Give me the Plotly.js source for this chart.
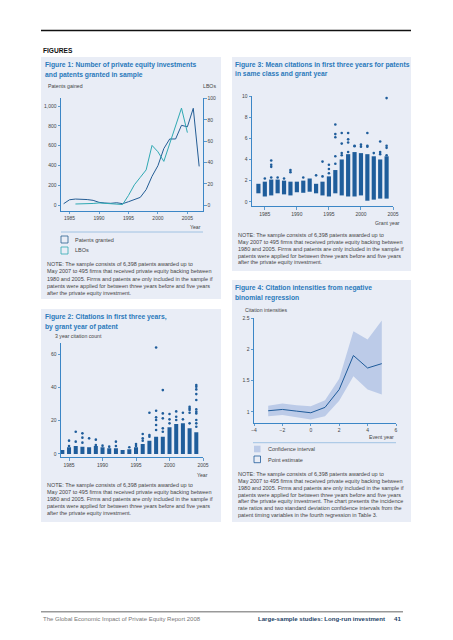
<!DOCTYPE html>
<html><head><meta charset="utf-8">
<script src="https://cdn.plot.ly/plotly-3.0.1.min.js"></script>
<style>html,body{margin:0;padding:0;background:#fff}#chart{width:453px;height:640px}</style>
</head><body><div id="chart"></div>
<script>
// ---------- Figure 1: patents granted (left axis) and LBOs (right axis)
const fig1Years = [1984,1985,1986,1987,1988,1989,1990,1991,1992,1993,1994,1995,1996,1997,1998,1999,2000,2001,2002,2003,2004,2005,2006,2007];
const patentsGranted = [13,53,60,60,55,47,27,20,17,23,13,33,53,77,155,290,397,570,667,667,805,790,977,390];
const lboYears = [1986,1987,1988,1989,1990,1991,1992,1993,1994,1995,1996,1997,1998,1999,2000,2001,2002,2003,2004,2005];
const lboCounts = [1,1,1.5,1.5,2,1.5,1,1,0.5,9,19,26,33,56,50,41,58,73,91,68];
const fig1LeftTicks = [0,200,400,600,800,1000];
const fig1RightTicks = [0,20,40,60,80,100];
const fig1XTicks = [1985,1990,1995,2000,2005];

// ---------- Figure 2: 3-year citation counts by grant year
const citeYears = [1984,1985,1986,1987,1988,1989,1990,1991,1992,1993,1994,1995,1996,1997,1998,1999,2000,2001,2002,2003,2004];
const citeDenseTop = [2.4,4,4.8,4.4,4,4.8,4,3.4,3.4,2.4,2.8,4,6,8,10.4,10.4,16,18,18.5,15.5,13];
const citeOutlierYears = [1985,1985,1986,1986,1987,1987,1987,1988,1989,1989,1990,1991,1992,1992,1994,1995,1995,1996,1996,1996,1997,1997,1997,1998,1998,1998,1998,1998,1998,1999,1999,1999,1999,1999,2000,2000,2000,2001,2001,2001,2002,2002,2003,2003,2003,2003,2003,2004,2004,2004,2004,2004,2004,2004,2004,2004,2004,2004];
const citeOutlierValues = [8,4.8,13.4,7.4,12.4,9.8,6.8,9.4,8.6,5.4,5,4.4,7.4,4.8,4,4.8,6,12,8,9.4,24.8,11.4,10.4,64,26,22,20.4,17.4,14.4,38.4,24.4,21.4,15.4,13.4,24,20.8,18.4,25.6,22.4,20.4,24.8,20.8,28.4,27.4,26.4,24.8,18.4,41.4,40.4,38.8,36,32.4,26.8,25.4,24.4,20.4,18.4,16.4];
const fig2YTicks = [0,20,40,60];

// ---------- Figure 3: mean citations for patents in same class and grant year
const meanYears = [1984,1985,1986,1987,1988,1989,1990,1991,1992,1993,1994,1995,1996,1997,1998,1999,2000,2001,2002,2003,2004];
const meanLow = [0.8,0.5,0.6,0.8,0.7,0.6,0.9,0.85,0.95,0.8,0.6,0.5,0.8,0.6,0.5,0.5,0.6,0.1,0.2,0.3,0.3];
const meanHigh = [1.7,1.9,2.1,2.1,2.0,1.9,1.9,2.0,2.2,1.7,1.9,2.4,3.0,4.0,4.5,4.7,4.6,4.5,4.3,4.0,4.3];
const meanOutlierYears = [1985,1986,1986,1986,1986,1987,1988,1989,1989,1991,1993,1994,1994,1995,1995,1995,1996,1996,1996,1996,1996,1997,1997,1997,1997,1998,1998,1998,1998,1999,1999,2000,2000,2001,2001,2001,2002,2003,2003,2003,2004,2004,2004,2004];
const meanOutlierValues = [2.2,3.9,3.5,3.3,2.3,2.3,2.2,3.0,2.8,2.3,2.5,3.8,2.4,3.5,3.1,2.7,7.3,6.4,6.1,4.3,3.6,6.5,5.5,4.6,4.4,6.5,5.9,5.6,4.7,5.3,5.25,5.4,5.2,6.5,5.3,5.2,4.6,5.7,4.7,4.5,9.8,5.3,5.1,4.4];
const fig3YTicks = [0,2,4,6,8,10];

// ---------- Figure 4: citation intensities
const eventYears = [-3,-2,-1,0,1,2,3,4,5];
const pointEstimate = [1.016,1.037,1.01,0.984,1.07,1.356,1.90,1.70,1.77];
const ciUpper = [1.096,1.133,1.106,1.09,1.186,1.53,2.29,2.155,2.46];
const ciLower = [0.93,0.947,0.91,0.878,0.93,1.176,1.57,1.356,1.277];
const fig4YTicks = [1,1.5,2,2.5];
const fig4XTicks = [-4,-2,0,2,4,6];

const noteLines = [
  "NOTE: The sample consists of 6,398 patents awarded up to",
  "May 2007 to 495 firms that received private equity backing between",
  "1980 and 2005. Firms and patents are only included in the sample if",
  "patents were applied for between three years before and five years",
  "after the private equity investment."
];
const note4Lines = [
  "NOTE: The sample consists of 6,398 patents awarded up to",
  "May 2007 to 495 firms that received private equity backing between",
  "1980 and 2005. Firms and patents are only included in the sample if",
  "patents were applied for between three years before and five years",
  "after the private equity investment. The chart presents the incidence",
  "rate ratios and two standard deviation confidence intervals from the",
  "patent timing variables in the fourth regression in Table 3."
];

// ---------- helpers
const W = 453, H = 640;
const fx = x => x / W;
const fy = y => 1 - y / H;
const FONT = "Liberation Sans, Arial, Helvetica, sans-serif";
const BG = "#e9edf6";
const TITLE = "#2a79bb";
const AXIS = "#3b86c6";
const DOT = "#1f5d9b";
const TXT = "#444";

const annotations = [];
function txt(x, y, text, opts = {}) {
  annotations.push(Object.assign({
    xref: 'paper', yref: 'paper', x: fx(x), y: fy(y), text: text,
    showarrow: false, xanchor: 'left', yanchor: 'middle',
    font: {family: FONT, size: 5.5, color: TXT}
  }, opts));
}
function title(x, y, t) { txt(x, y, t, {font: {family: FONT, size: 6.75, color: TITLE, weight: 'bold'}}); }

const shapes = [];
function rect(x0, y0, x1, y1, fill, line, layer) {
  shapes.push({type: 'rect', xref: 'paper', yref: 'paper', x0: fx(x0), x1: fx(x1), y0: fy(y1), y1: fy(y0),
    fillcolor: fill || 'rgba(0,0,0,0)', line: line || {width: 0}, layer: layer || 'below'});
}
function hline(x0, x1, y, color, width) {
  shapes.push({type: 'line', xref: 'paper', yref: 'paper', x0: fx(x0), x1: fx(x1), y0: fy(y), y1: fy(y),
    line: {color: color, width: width}});
}

// panels
rect(41, 57, 221, 299, BG);
rect(41, 309, 221, 522, BG);
rect(232, 57, 411, 271, BG);
rect(232, 280, 411, 522, BG);
hline(41, 411, 30.5, '#111', 1.3);
hline(41, 403, 611.7, '#999', 1.6);

// header text
txt(41, 50, "FIGURES", {font: {family: FONT, size: 6.6, color: '#111', weight: 'bold'}});

// Figure 1 texts
title(43, 65, "Figure 1: Number of private equity investments");
title(43, 74.5, "and patents granted in sample");
txt(46, 86, "Patents gained", {font: {family: FONT, size: 5.2, color: TXT}});
txt(218, 86, "LBOs", {xanchor: 'right', font: {family: FONT, size: 5.2, color: TXT}});
txt(203, 227, "Year", {xanchor: 'right', font: {family: FONT, size: 5.2, color: TXT}});
hline(61, 203, 232, '#8db7de', 0.8);
rect(61, 236, 68, 243, null, {color: '#2a5f90', width: 0.8}, 'above');
rect(61, 247, 68, 254, null, {color: '#2fa9b3', width: 0.8}, 'above');
txt(73, 239.5, "Patents granted");
txt(73, 250.5, "LBOs");
noteLines.forEach((l, i) => txt(45, 264 + i * 7.25, l));

// Figure 2 texts
title(43, 317, "Figure 2: Citations in first three years,");
title(43, 326.5, "by grant year of patent");
txt(53, 336, "3 year citation count", {font: {family: FONT, size: 5.2, color: TXT}});
txt(210, 475, "Year", {xanchor: 'right', font: {family: FONT, size: 5.2, color: TXT}});
noteLines.forEach((l, i) => txt(45, 485 + i * 7.1, l));

// Figure 3 texts
title(233, 64.7, "Figure 3: Mean citations in first three years for patents");
title(233, 74, "in same class and grant year");
txt(402, 223, "Grant year", {xanchor: 'right', font: {family: FONT, size: 5.2, color: TXT}});
noteLines.forEach((l, i) => txt(236, 235 + i * 6.85, l));

// Figure 4 texts
title(233, 288, "Figure 4: Citation intensities from negative");
title(233, 297.5, "binomial regression");
txt(243, 310, "Citation intensities", {font: {family: FONT, size: 5.2, color: TXT}});
txt(396, 437, "Event year", {xanchor: 'right', font: {family: FONT, size: 5.2, color: TXT}});
hline(253, 396, 442.7, '#8db7de', 0.8);
rect(254, 445.7, 260.5, 452.3, '#bccbe8', {width: 0}, 'above');
rect(254, 456, 260.5, 462.7, null, {color: '#1f5b9a', width: 0.8}, 'above');
txt(266, 449, "Confidence interval");
txt(266, 459.5, "Point estimate");
note4Lines.forEach((l, i) => txt(236, 474.3 + i * 6.78, l));

// footer
txt(41, 618.5, "The Global Economic Impact of Private Equity Report 2008", {font: {family: FONT, size: 6, color: '#777'}});
txt(256, 618.5, "Large-sample studies: Long-run investment", {font: {family: FONT, size: 6.1, color: '#1d3f66', weight: 'bold'}});
txt(403, 618.5, "41", {xanchor: 'right', font: {family: FONT, size: 6.1, color: '#1d3f66', weight: 'bold'}});

// ---------- traces
const traces = [
  {type: 'scatter', mode: 'lines', x: fig1Years, y: patentsGranted, xaxis: 'x', yaxis: 'y',
   line: {color: '#245d95', width: 1}},
  {type: 'scatter', mode: 'lines', x: lboYears, y: lboCounts, xaxis: 'x', yaxis: 'y2',
   line: {color: '#2fa9b3', width: 1}},
  {type: 'bar', x: citeYears, y: citeDenseTop, xaxis: 'x2', yaxis: 'y3', width: 0.6,
   marker: {color: DOT, line: {width: 0}}},
  {type: 'scatter', mode: 'markers', x: citeOutlierYears, y: citeOutlierValues, xaxis: 'x2', yaxis: 'y3',
   marker: {color: DOT, size: 2.6}},
  {type: 'bar', x: meanYears, y: meanHigh.map((h, i) => h - meanLow[i]), base: meanLow, xaxis: 'x3', yaxis: 'y4', width: 0.65,
   marker: {color: DOT, line: {width: 0}}},
  {type: 'scatter', mode: 'markers', x: meanOutlierYears, y: meanOutlierValues, xaxis: 'x3', yaxis: 'y4',
   marker: {color: DOT, size: 2.6}},
  {type: 'scatter', mode: 'lines', x: eventYears.concat(eventYears.slice().reverse()),
   y: ciUpper.concat(ciLower.slice().reverse()), fill: 'toself', fillcolor: '#bccbe8',
   line: {width: 0}, xaxis: 'x4', yaxis: 'y5'},
  {type: 'scatter', mode: 'lines', x: eventYears, y: pointEstimate, xaxis: 'x4', yaxis: 'y5',
   line: {color: '#1f5b9a', width: 1}}
];

function axis(extra) {
  return Object.assign({
    showline: true, linecolor: AXIS, linewidth: 1, showgrid: false, zeroline: false,
    ticks: 'outside', ticklen: 2.5, tickwidth: 0.8, tickcolor: AXIS,
    tickfont: {family: FONT, size: 5, color: TXT}, fixedrange: true
  }, extra);
}

const layout = {
  width: W, height: H, margin: {l: 0, r: 0, t: 0, b: 0},
  paper_bgcolor: '#fff', plot_bgcolor: 'rgba(0,0,0,0)', showlegend: false, barmode: 'overlay',
  font: {family: FONT},
  xaxis: axis({domain: [fx(61), fx(203)], range: [1983.55, 2007.65], anchor: 'y', tickvals: fig1XTicks}),
  yaxis: axis({domain: [fy(210.7), fy(98)], range: [-57.6, 1081], anchor: 'x', tickvals: fig1LeftTicks, tickformat: ','}),
  yaxis2: axis({domain: [fy(210.7), fy(98)], range: [-5.3, 100.5], overlaying: 'y', side: 'right', anchor: 'x', tickvals: fig1RightTicks}),
  xaxis2: axis({domain: [fx(61), fx(203)], range: [1983.8, 2005], anchor: 'y3', tickvals: fig1XTicks, tickformat: 'd'}),
  yaxis3: axis({domain: [fy(457.3), fy(343)], range: [-2, 66.7], anchor: 'x2', tickvals: fig2YTicks}),
  xaxis3: axis({domain: [fx(252), fx(393)], range: [1983, 2005], anchor: 'y4', tickvals: fig1XTicks, tickformat: 'd'}),
  yaxis4: axis({domain: [fy(206), fy(96)], range: [-0.4, 10], anchor: 'x3', tickvals: fig3YTicks}),
  xaxis4: axis({domain: [fx(254), fx(396)], range: [-4, 6], anchor: 'y5', tickvals: fig4XTicks}),
  yaxis5: axis({domain: [fy(422.7), fy(318)], range: [0.825, 2.5], anchor: 'x4', tickvals: fig4YTicks}),
  shapes: shapes,
  annotations: annotations
};

Plotly.newPlot('chart', traces, layout, {staticPlot: true, displayModeBar: false});
</script>
</body></html>
